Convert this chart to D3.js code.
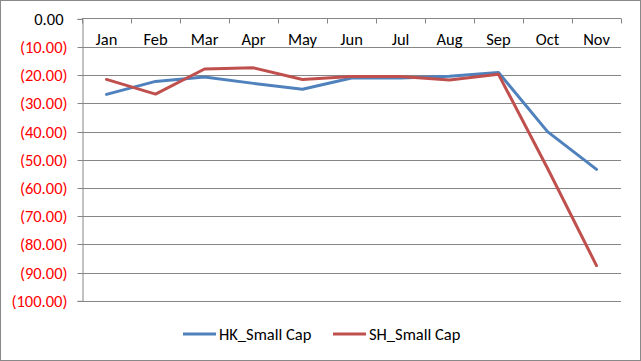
<!DOCTYPE html>
<html><head><meta charset="utf-8">
<script src="https://cdn.jsdelivr.net/npm/d3@7"></script>
<style>body{margin:0;background:#fff}svg{display:block}text{font-family:Carlito,Calibri,Lato,sans-serif}</style>
</head><body><div id="chart"></div>
<script>
const months = ["Jan","Feb","Mar","Apr","May","Jun","Jul","Aug","Sep","Oct","Nov"];
const hkSmallCap = [-26.8,-22.2,-20.6,-22.9,-25.0,-21.0,-21.0,-20.4,-19.0,-40.0,-53.4];
const shSmallCap = [-21.5,-26.7,-17.8,-17.4,-21.5,-20.5,-20.5,-21.7,-19.7,-53.0,-87.5];
const yTicks = [0,-10,-20,-30,-40,-50,-60,-70,-80,-90,-100];
const seriesNames = ["HK_Small Cap","SH_Small Cap"];
const seriesColors = ["#4F81BD","#C0504D"];

const W=641,H=361;
const FS=16.5;
const svg=d3.select("#chart").append("svg").attr("width",W).attr("height",H);
svg.append("rect").attr("x",0.5).attr("y",0.5).attr("width",W-1).attr("height",H-1).attr("fill","#fff").attr("stroke","#898989");

const x=d3.scaleBand().domain(months).range([82,621]).padding(0);
const y=d3.scaleLinear().domain([0,-100]).range([18.8,300.8]);
const cx=m=>x(m)+x.bandwidth()/2;
const grid="#868686";

// gridlines
svg.append("g").selectAll("line").data(yTicks.filter(v=>v!==0)).join("line")
  .attr("x1",82).attr("x2",621).attr("y1",d=>Math.round(y(d))+0.5).attr("y2",d=>Math.round(y(d))+0.5)
  .attr("stroke",grid).attr("stroke-width",1);

// y axis
const yAxis=d3.axisLeft(y).tickValues(yTicks).tickSize(5).tickPadding(10)
  .tickFormat(d=>d===0?"0.00":"("+Math.abs(d).toFixed(2)+")");
const gy=svg.append("g").attr("transform","translate(82.5,0)").call(yAxis);
gy.select(".domain").attr("stroke",grid);
gy.selectAll(".tick line").attr("stroke",grid);
gy.selectAll(".tick").attr("transform",d=>`translate(0,${Math.round(y(d))+0.5})`);
gy.selectAll(".tick text").attr("font-family","Carlito,Calibri,Lato,sans-serif").attr("font-size",FS)
  .attr("font-weight","normal")
  .attr("fill",d=>d===0?"#000":"#FF0000").attr("dx",d=>d===0?-4:0);

// x axis at top
const xAxis=d3.axisBottom(x).tickSize(0).tickPadding(0);
const gx=svg.append("g").attr("transform","translate(0,18.5)").call(xAxis);
gx.select(".domain").attr("stroke",grid).attr("d","M82,0H621");
gx.selectAll(".tick text").attr("font-family","Carlito,Calibri,Lato,sans-serif").attr("font-size",FS).attr("fill","#000").attr("y",26).attr("dy",0);
gx.append("g").selectAll("line").data(months.concat(["end"])).join("line")
  .attr("x1",(d,i)=>Math.round(82+i*x.bandwidth())+0.5).attr("x2",(d,i)=>Math.round(82+i*x.bandwidth())+0.5)
  .attr("y1",0).attr("y2",5).attr("stroke",grid);

// lines
const line=d3.line().x((d,i)=>cx(months[i])).y(d=>y(d));
[hkSmallCap,shSmallCap].forEach((s,k)=>{
  svg.append("path").datum(s).attr("d",line).attr("fill","none").attr("stroke",seriesColors[k])
    .attr("stroke-width",3).attr("stroke-linejoin","round").attr("stroke-linecap","round");
});

// legend
const legX=[183,333];
const lg=svg.append("g");
seriesNames.forEach((n,k)=>{
  lg.append("line").attr("x1",legX[k]).attr("x2",legX[k]+33).attr("y1",334).attr("y2",334)
    .attr("stroke",seriesColors[k]).attr("stroke-width",3);
  lg.append("text").attr("x",legX[k]+36).attr("y",334).attr("dy","0.35em").attr("font-size",FS).attr("fill","#000").text(n);
});
</script></body></html>
